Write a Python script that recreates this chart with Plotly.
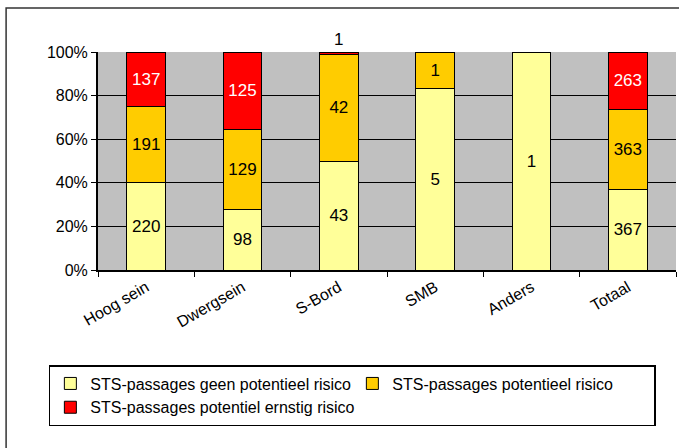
import plotly.graph_objects as go

categories = ["Hoog sein", "Dwergsein", "S-Bord", "SMB", "Anders", "Totaal"]
geen = [220, 98, 43, 5, 1, 367]
potentieel = [191, 129, 42, 1, 0, 363]
ernstig = [137, 125, 1, 0, 0, 263]
y_ticks = [0, 20, 40, 60, 80, 100]
y_ticktext = ["0%", "20%", "40%", "60%", "80%", "100%"]

series = [
    ("STS-passages geen potentieel risico", geen, "#FFFF99", "black"),
    ("STS-passages potentieel risico", potentieel, "#FFCC00", "black"),
    ("STS-passages potentiel ernstig risico", ernstig, "#FF0000", "white"),
]
totals = [g + p + e for g, p, e in zip(geen, potentieel, ernstig)]

FONT = "Liberation Sans, Arial"
SMALL = 0.05  # segments thinner than this share get their label above the bar

fig = go.Figure()
annotations = []
for i, (name, vals, color, tcolor) in enumerate(series):
    texts = []
    for c, v, t in zip(categories, vals, totals):
        if not v:
            texts.append("")
        elif i == len(series) - 1 and v / t < SMALL:
            texts.append("")
            annotations.append(dict(
                x=c, y=100.0 * t / t, xref="x", yref="y", text=str(v),
                showarrow=False, yanchor="bottom", yshift=1,
                font=dict(family=FONT, size=17, color="black")))
        else:
            texts.append(str(v))
    fig.add_trace(go.Bar(
        x=categories, y=vals, name=name,
        marker=dict(color=color, line=dict(color="black", width=1)),
        text=texts, textposition="inside", insidetextanchor="middle",
        insidetextfont=dict(family=FONT, size=17, color=tcolor),
        width=0.4,
    ))

fig.update_layout(
    barmode="stack", barnorm="percent",
    width=679, height=448,
    margin=dict(l=98, r=3, t=52, b=178, autoexpand=False),
    paper_bgcolor="white", plot_bgcolor="#C0C0C0",
    font=dict(family=FONT, size=15, color="black"),
    annotations=annotations,
    legend=dict(
        orientation="h", x=-0.085, y=-0.436, xanchor="left", yanchor="top",
        bordercolor="black", borderwidth=1.5, bgcolor="white",
        font=dict(size=16), entrywidth=257, entrywidthmode="pixels",
        traceorder="normal", itemwidth=30,
    ),
    xaxis=dict(
        tickangle=-30, tickson="boundaries", ticks="outside", ticklen=5,
        tickcolor="black", showline=True, linecolor="black", linewidth=2,
        tickfont=dict(size=16), showgrid=False, automargin=False,
    ),
    yaxis=dict(
        range=[0, 100], tickvals=y_ticks, ticktext=y_ticktext,
        ticks="outside", ticklen=5, tickcolor="black", showline=True,
        linecolor="black", linewidth=2, gridcolor="black", gridwidth=1,
        tickfont=dict(size=16), zeroline=False, automargin=False,
    ),
    shapes=[dict(type="rect", xref="paper", yref="paper",
                 x0=-0.159, x1=1.5, y0=-1.0, y1=1.202,
                 line=dict(color="#333333", width=1.5), layer="below")],
)

fig.write_html("out.html", config={"displayModeBar": False},
               post_script="document.body.style.margin='0';document.body.style.overflow='hidden';")
